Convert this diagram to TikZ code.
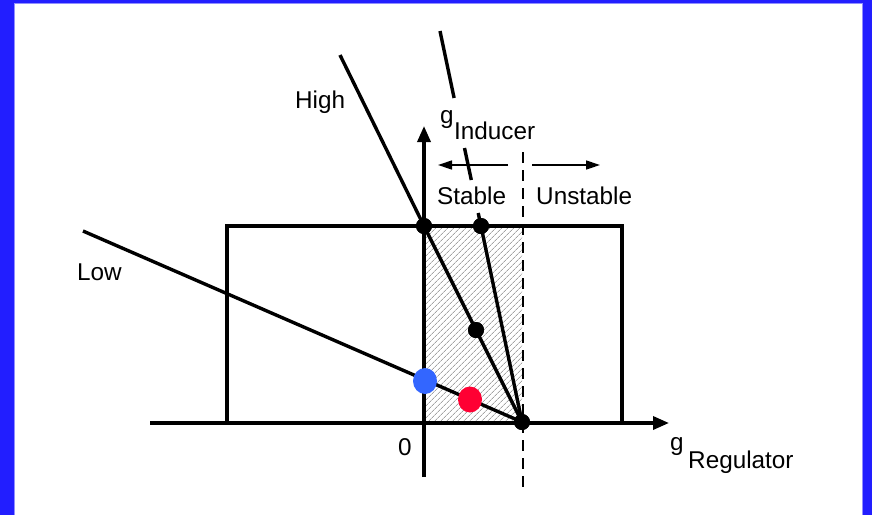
\documentclass[tikz,border=0pt]{standalone}
\usepackage{fontspec}
\setmainfont{Liberation Sans}
\usetikzlibrary{arrows.meta,patterns.meta,shapes.geometric}
\definecolor{frameblue}{RGB}{34,30,255}
\definecolor{dotblue}{RGB}{51,102,255}
\definecolor{dotred}{RGB}{255,0,51}
\tikzset{
  lbl/.style={inner sep=0pt,anchor=base west,font=\fontsize{24.3}{28}\selectfont},
  thick line/.style={line width=3.4pt},
  axis/.style={line width=3.4pt,-{Triangle[length=16pt,width=13pt]}},
  blackdot/.style={circle,fill=black,inner sep=0pt,minimum size=16pt},
  bigdot/.style={ellipse,inner sep=0pt,minimum width=24pt,minimum height=26pt},
  smallarrow/.style={line width=1.4pt,-{Triangle[length=14pt,width=9pt]}},
  dashline/.style={line width=1.4pt,dash pattern=on 11pt off 7pt}
}
\begin{document}
\begin{tikzpicture}[x=1pt,y=-1pt]
\useasboundingbox (0,0) rectangle (872,515);
% frame
\fill[frameblue] (0,0) rectangle (872,515);
\fill[white] (14,3) rectangle (863,515);
\draw[frameblue!50,line width=1pt] (14.5,515) -- (14.5,3.5) -- (862.5,3.5) -- (862.5,515);
% shaded region
\fill[pattern={Lines[angle=45,distance=4pt,line width=0.6pt]},pattern color=black!55] (424,226) rectangle (522,423);
% rectangle
\draw[thick line,line join=miter] (227,423) -- (227,226) -- (622,226) -- (622,423);
% dashed line
\coordinate (dtop) at (523,152);
\coordinate (dbot) at (523,488);
\draw[dashline] (dtop) -- (dbot);
% axes
\coordinate (xstart) at (150,423);
\coordinate (xend) at (669,423);
\coordinate (ystart) at (424,477);
\coordinate (yend) at (424,126);
\draw[axis] (xstart) -- (xend);
\draw[axis] (ystart) -- (yend);
% stability arrows
\coordinate (la1) at (508,165);
\coordinate (la2) at (438,165);
\coordinate (ra1) at (532,165);
\coordinate (ra2) at (600,165);
\draw[smallarrow] (la1) -- (la2);
\draw[smallarrow] (ra1) -- (ra2);
% dots
\node[blackdot] (P) at (522,422) {};
\node[blackdot] (A) at (424,226) {};
\node[blackdot] (B) at (481,226) {};
\node[blackdot] (C) at (476,330) {};
% lines
\coordinate (hightop) at (340,55);
\coordinate (lowtop) at (83,231);
\draw[thick line] (hightop) -- (A.center) -- (C.center) -- (P.center);
\draw[thick line] (lowtop) -- (P.center);
\coordinate (m1) at (440,31);
\coordinate (m2) at (454.1,98);
\coordinate (m3) at (464.5,148);
\coordinate (m4) at (471.3,180);
\coordinate (m5) at (478.2,213);
\draw[thick line] (m1) -- (m2);
\draw[thick line] (m3) -- (m4);
\draw[thick line] (m5) -- (B.center) -- (P.center);
% redraw dots on top
\node[blackdot] at (P) {};
\node[blackdot] at (A) {};
\node[blackdot] at (B) {};
\node[blackdot] at (C) {};
\node[bigdot,fill=dotblue] (blue) at (425,381) {};
\node[bigdot,fill=dotred] (red) at (470,399.5) {};
% labels
\node[lbl] (high) at (295,108) {High};
\node[lbl] (low) at (77,280) {Low};
\node[lbl] (gi) at (440,123) {g};
\node[lbl] (inducer) at (454,139) {Inducer};
\node[lbl] (stable) at (437,204) {Stable};
\node[lbl] (unstable) at (536,204) {Unstable};
\node[lbl] (zero) at (398,455) {0};
\node[lbl] (gr) at (670,450) {g};
\node[lbl] (regulator) at (688,468) {Regulator};
\end{tikzpicture}
\end{document}
